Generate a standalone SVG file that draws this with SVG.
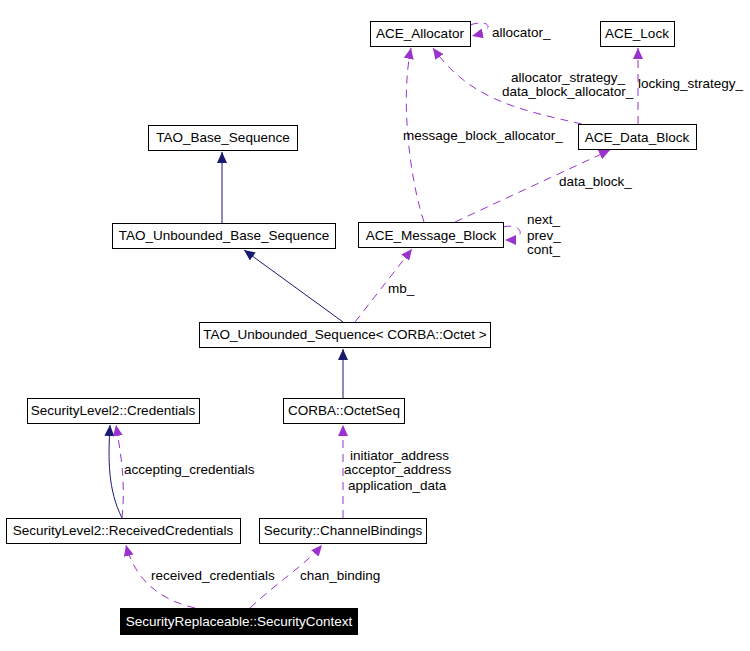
<svg xmlns="http://www.w3.org/2000/svg" width="750" height="651" viewBox="0 0 750 651">
<style>
text{font-family:"Liberation Sans",Arial,sans-serif;font-size:13.5px;fill:#000}
.n rect{fill:#fff;stroke:#000;stroke-width:1}
.n text{text-anchor:middle}
.inh{fill:none;stroke:#191970;stroke-width:1}
.use{fill:none;stroke:#9a32cd;stroke-width:1;stroke-dasharray:8,6}
</style>
<defs>
<marker id="ai" markerWidth="12" markerHeight="10" refX="11" refY="5" orient="auto" markerUnits="userSpaceOnUse"><path d="M0,0L11,5L0,10z" fill="#191970"/></marker>
<marker id="au" markerWidth="12" markerHeight="10" refX="11" refY="5" orient="auto" markerUnits="userSpaceOnUse"><path d="M0,0L11,5L0,10z" fill="#9a32cd"/></marker>
</defs>
<rect width="750" height="651" fill="#fff"/>
<g id="connectors">
<path class="inh" d="M222,223V152" marker-end="url(#ai)"/>
<path class="inh" d="M343,322L244,250" marker-end="url(#ai)"/>
<path class="inh" d="M343,398V349" marker-end="url(#ai)"/>
<path class="inh" d="M122,518C108,490 108,460 110,425" marker-end="url(#ai)"/>
<path class="use" d="M122,518C126,480 120,450 116,425" marker-end="url(#au)"/>
<path class="use" d="M355,322L412,249" marker-end="url(#au)"/>
<path class="use" d="M424,222C410,180 400,100 411,48" marker-end="url(#au)"/>
<path class="use" d="M455,222L610,150" marker-end="url(#au)"/>
<path class="use" d="M582,124C520,110 470,100 433,48" marker-end="url(#au)"/>
<path class="use" d="M638,124V48" marker-end="url(#au)"/>
<path class="use" d="M470,25C490,18 497,30 472,36" marker-end="url(#au)"/>
<path class="use" d="M503,227C523,222 528,240 505,240" marker-end="url(#au)"/>
<path class="use" d="M343,518V425" marker-end="url(#au)"/>
<path class="use" d="M195,608C160,600 135,580 126,545" marker-end="url(#au)"/>
<path class="use" d="M250,608C280,580 305,565 322,545" marker-end="url(#au)"/>
<text x="492" y="37">allocator_</text>
<text x="511" y="82">allocator_strategy_</text>
<text x="502" y="96">data_block_allocator_</text>
<text x="638" y="88">locking_strategy_</text>
<text x="403" y="140">message_block_allocator_</text>
<text x="559" y="186">data_block_</text>
<text x="527" y="224">next_</text>
<text x="527" y="240">prev_</text>
<text x="527" y="254">cont_</text>
<text x="388" y="293">mb_</text>
<text x="124" y="474">accepting_credentials</text>
<text x="350" y="460">initiator_address</text>
<text x="344" y="474">acceptor_address</text>
<text x="348" y="490">application_data</text>
<text x="151" y="580">received_credentials</text>
<text x="300" y="580">chan_binding</text>
</g>
<g id="ACE_Allocator" class="n"><rect x="370.5" y="21.5" width="100" height="25"/><text x="420" y="38">ACE_Allocator</text></g>
<g id="ACE_Lock" class="n"><rect x="600.5" y="21.5" width="74" height="25"/><text x="637" y="38">ACE_Lock</text></g>
<g id="ACE_Data_Block" class="n"><rect x="578.5" y="124.5" width="118" height="25"/><text x="637" y="142">ACE_Data_Block</text></g>
<g id="ACE_Message_Block" class="n"><rect x="358.5" y="222.5" width="145" height="25"/><text x="431" y="240">ACE_Message_Block</text></g>
<g id="TAO_Base_Sequence" class="n"><rect x="148.5" y="125.5" width="149" height="25"/><text x="223" y="142">TAO_Base_Sequence</text></g>
<g id="TAO_Unbounded_Base_Sequence" class="n"><rect x="112.5" y="223.5" width="223" height="25"/><text x="224" y="240">TAO_Unbounded_Base_Sequence</text></g>
<g id="TAO_Unbounded_Sequence" class="n"><rect x="199.5" y="322.5" width="291" height="25"/><text x="345" y="339">TAO_Unbounded_Sequence&lt; CORBA::Octet &gt;</text></g>
<g id="Credentials" class="n"><rect x="27.5" y="398.5" width="172" height="25"/><text x="113" y="415">SecurityLevel2::Credentials</text></g>
<g id="OctetSeq" class="n"><rect x="283.5" y="398.5" width="121" height="25"/><text x="344" y="415">CORBA::OctetSeq</text></g>
<g id="ReceivedCredentials" class="n"><rect x="6.5" y="518.5" width="234" height="25"/><text x="123" y="535">SecurityLevel2::ReceivedCredentials</text></g>
<g id="ChannelBindings" class="n"><rect x="259.5" y="518.5" width="167" height="25"/><text x="343" y="535">Security::ChannelBindings</text></g>
<g id="SecurityContext"><rect x="120.5" y="608.5" width="237" height="26" fill="#000" stroke="#000"/><text x="239" y="626" text-anchor="middle" style="fill:#fff">SecurityReplaceable::SecurityContext</text></g>
</svg>
